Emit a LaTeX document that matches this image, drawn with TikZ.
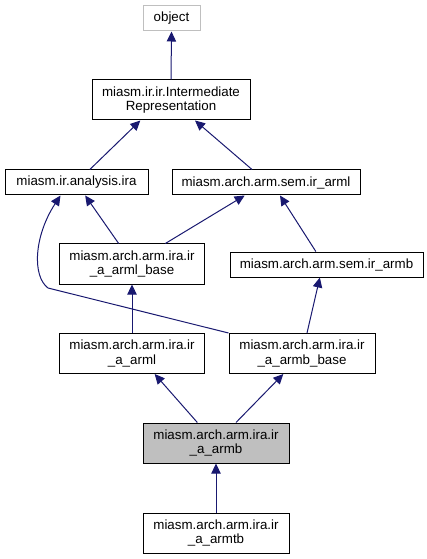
\documentclass[tikz,border=0pt]{standalone}
\usepackage{fontspec}
\setmainfont{Liberation Sans}
\usepackage{xcolor}
\usetikzlibrary{arrows.meta, calc}

\definecolor{edgeblue}{HTML}{191970}
\definecolor{curgray}{HTML}{BFBFBF}

\tikzset{
    cls/.style={draw, line width=0.75pt, fill=white, inner sep=0pt, align=center,
        font=\fontsize{10}{10.7}\selectfont, minimum height=18.75pt},
    cls2/.style={cls, minimum height=30pt},
    inh/.style={draw=edgeblue, line width=0.75pt, -{Triangle[length=7.5pt, width=7pt]}, edgeblue}
}

\begin{document}
\begin{tikzpicture}[x=0.75pt, y=-0.75pt]
    \useasboundingbox (0, 0) rectangle (427, 559);

    \node[cls, draw=curgray, minimum width=42.75pt] (object) at (171.5, 18.5) {object};
    \node[cls2, minimum width=118.5pt] (ir) at (171, 100) {miasm.ir.ir.Intermediate\\Representation};
    \node[cls, minimum width=107.25pt] (ira) at (76.5, 182.5) {miasm.ir.analysis.ira};
    \node[cls, minimum width=141pt] (irarml) at (266, 182.5) {miasm.arch.arm.sem.ir\_arml};
    \node[cls2, minimum width=108.75pt] (armlbase) at (132, 264) {miasm.arch.arm.ira.ir\\\_a\_arml\_base};
    \node[cls, minimum width=144.75pt] (irarmb) at (326.5, 264.5) {miasm.arch.arm.sem.ir\_armb};
    \node[cls2, minimum width=108.75pt] (arml) at (132, 353.5) {miasm.arch.arm.ira.ir\\\_a\_arml};
    \node[cls2, minimum width=109.5pt] (armbbase) at (302, 353.5) {miasm.arch.arm.ira.ir\\\_a\_armb\_base};
    \node[cls2, fill=curgray, minimum width=109.5pt] (armb) at (216, 443) {miasm.arch.arm.ira.ir\\\_a\_armb};
    \node[cls2, minimum width=109.5pt] (armtb) at (216, 533) {miasm.arch.arm.ira.ir\\\_a\_armtb};

    % inheritance edges, child -> parent
    \draw[inh] (ir.north) -- (object.south);
    \draw[inh] ([xshift=10pt]ira.north) -- ([xshift=-23pt]ir.south);
    \draw[inh] ([xshift=-10.5pt]irarml.north) -- ([xshift=18pt]ir.south);
    \draw[inh] ([xshift=-10pt]armlbase.north) -- ([xshift=6.5pt]ira.south);
    \draw[inh] ([xshift=25pt]armlbase.north) -- ([xshift=-16pt]irarml.south);
    \draw[inh] ([xshift=-8pt]irarmb.north) -- ([xshift=10.5pt]irarml.south);
    \coordinate (bend) at (48, 288);
    \draw[inh] (armbbase.north west) -- (bend) .. controls (32, 276) and (34, 236) .. ([xshift=-12pt]ira.south);
    \draw[inh] (arml.north) -- (armlbase.south);
    \draw[inh] ([xshift=3.75pt]armbbase.north) -- ([xshift=-5pt]irarmb.south);
    \draw[inh] ([xshift=-14pt]armb.north) -- ([xshift=17pt]arml.south);
    \draw[inh] ([xshift=15pt]armb.north) -- ([xshift=-14pt]armbbase.south);
    \draw[inh] (armtb.north) -- (armb.south);
\end{tikzpicture}
\end{document}
